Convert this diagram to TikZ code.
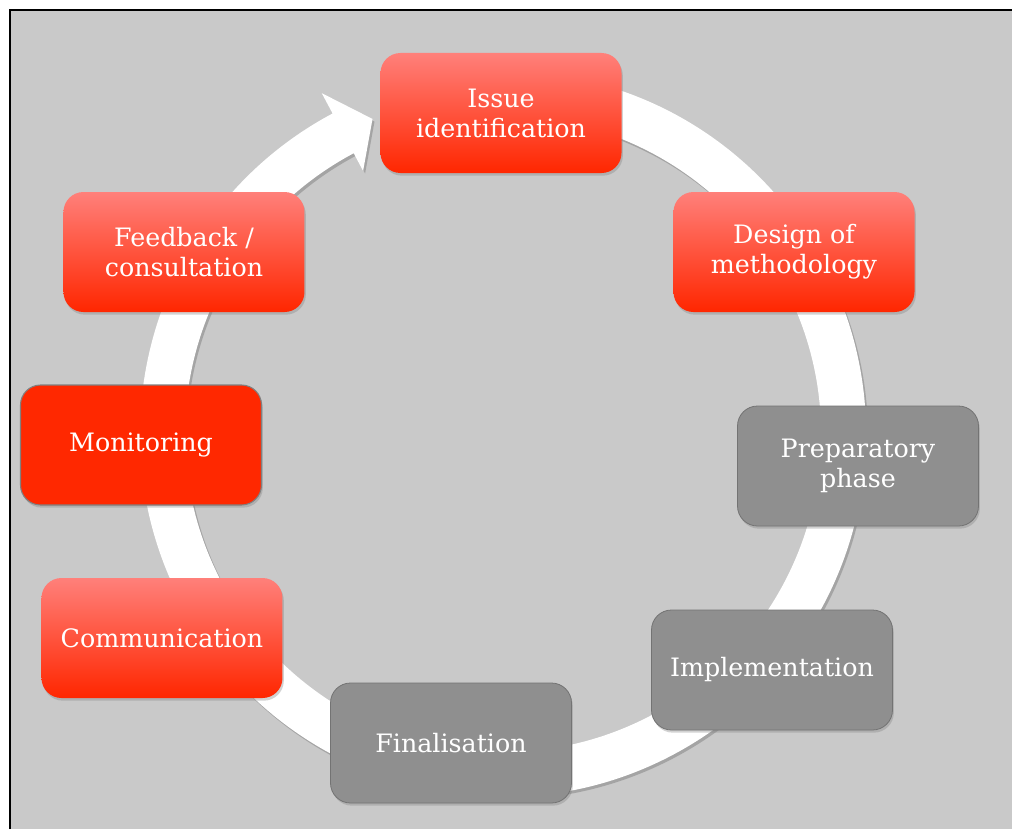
\documentclass[tikz,border=0pt]{standalone}
\usepackage{fontspec}
\setmainfont{DejaVu Serif}
\usetikzlibrary{shadows}
\definecolor{bggray}{RGB}{201,201,201}
\definecolor{redtop}{RGB}{255,128,122}
\definecolor{redbot}{RGB}{255,38,0}
\definecolor{redflat}{RGB}{255,40,0}
\definecolor{boxgray}{RGB}{143,143,143}
\tikzstyle{stage} = [rounded corners=15pt, minimum width=180.75pt, minimum height=90pt,
   text=white, align=center, font=\fontsize{19}{22.5}\selectfont,
   drop shadow={opacity=0.35, shadow xshift=1pt, shadow yshift=-2pt}]

\begin{document}
\begin{tikzpicture}[x=0.75pt, y=0.75pt,
   redstage/.style={stage, top color=redtop, bottom color=redbot},
   flatstage/.style={stage, fill=redflat, draw=gray, line width=0.8pt},
   graystage/.style={stage, fill=boxgray, draw=gray!90!black, line width=0.6pt}]
\useasboundingbox (-503,-395) rectangle (509,434);
% background and frame
\fill[bggray] (-493,-395) rectangle (509,424);
\draw[line width=1.5pt] (-493,-395) -- (-493,424) -- (509,424);

% circular arrow
\fill[black, opacity=0.18, xshift=1.5pt, yshift=-2pt]
   (80:363) arc[start angle=80, end angle=-242, radius=363]
   -- (-242:386) -- (-247.5:341) -- (-242:298) -- (-242:318)
   arc[start angle=-242, end angle=80, radius=318] -- cycle;
\fill[white]
   (80:363) arc[start angle=80, end angle=-242, radius=363]
   -- (-242:386) -- (-247.5:341) -- (-242:298) -- (-242:318)
   arc[start angle=-242, end angle=80, radius=318] -- cycle;

\node[redstage] (issue) at (-2, 321) {Issue\\identification};

\node[redstage] (design) at (291, 182) {Design of\\methodology};

\node[graystage] (prep) at (355, -32) {Preparatory\\phase};

\node[graystage] (impl) at (269, -236) {Implementation};

\node[graystage] (final) at (-52, -309) {Finalisation};

\node[redstage] (comm) at (-341, -204) {Communication};

\node[flatstage] (monit) at (-362, -11) {Monitoring};

\node[redstage] (feedback) at (-319, 182) {Feedback /\\consultation};

\end{tikzpicture}
\end{document}
